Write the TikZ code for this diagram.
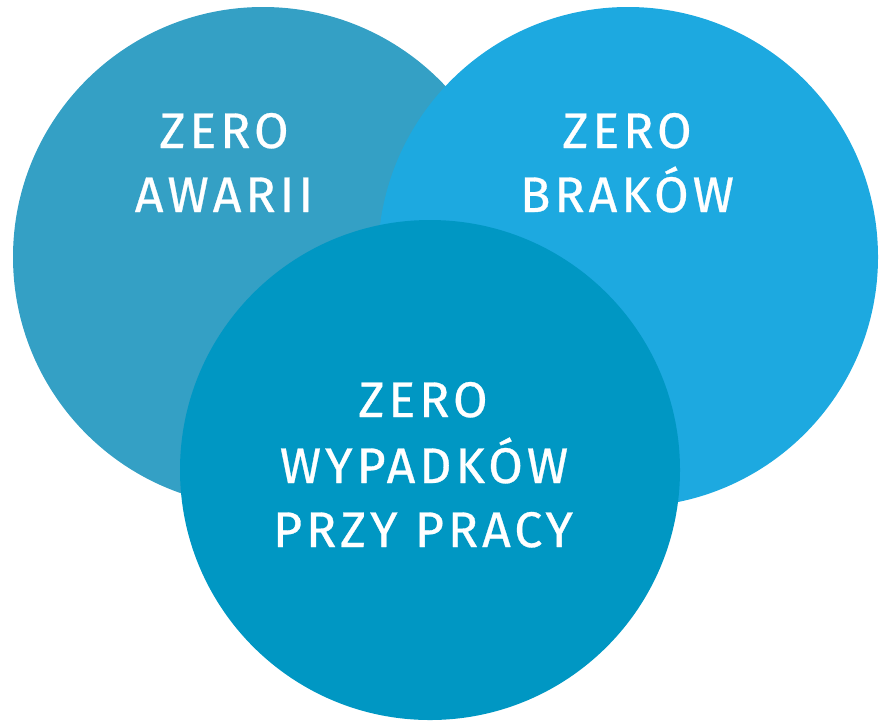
\documentclass[tikz,border=0pt]{standalone}
\usepackage{fontspec}
\setmainfont{Fira Sans}[LetterSpace=8,FakeBold=0.6]
\definecolor{leftblue}{RGB}{52,160,197}
\definecolor{rightblue}{RGB}{29,169,224}
\definecolor{bottomblue}{RGB}{0,151,195}
\begin{document}
\begin{tikzpicture}[x=1pt,y=-1pt,
  disc/.style={circle,inner sep=0pt,minimum size=500pt,draw=none},
  label/.style={text=white,inner sep=0pt,anchor=base,font=\fontsize{50}{60}\selectfont}]
\useasboundingbox (0,0) rectangle (885,721);
% three overlapping discs
\node[disc,fill=leftblue] (awarii) at (263,257) {};
\node[disc,fill=rightblue] (brakow) at (628,257) {};
\node[disc,fill=bottomblue] (wypadki) at (430,470) {};
% captions
\node[label] (a1) at (224,148) {ZERO};
\node[label] (a2) at (224,212) {AWARII};
\node[label] (b1) at (627,148) {ZERO};
\node[label] (b2) at (627,212) {BRAKÓW};
\node[label] (c1) at (423,417) {ZERO};
\node[label] (c2) at (424,483) {WYPADKÓW};
\node[label] (c3) at (423,547) {PRZY PRACY};
\end{tikzpicture}
\end{document}
